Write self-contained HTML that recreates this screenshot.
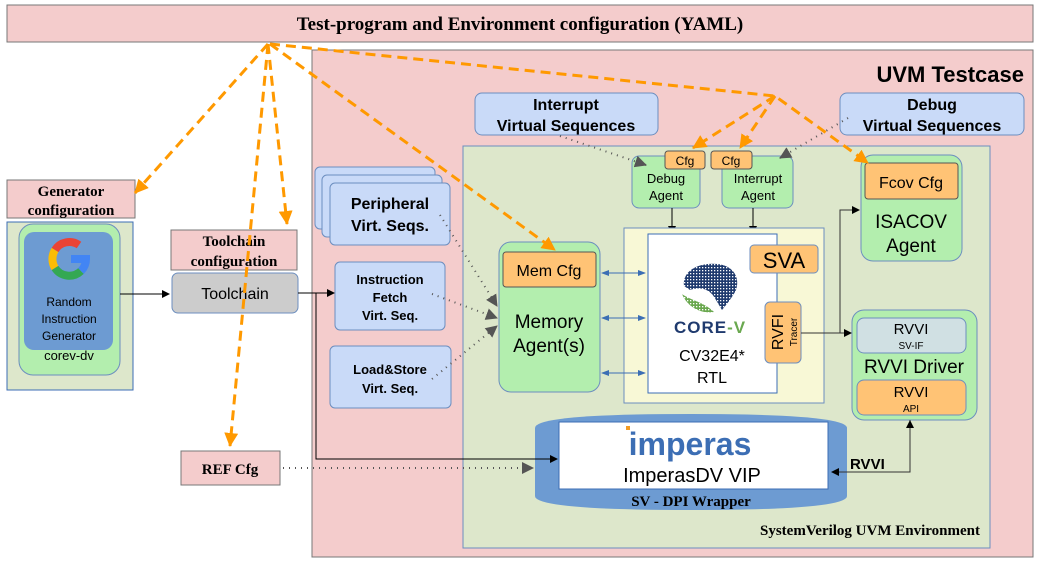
<!DOCTYPE html>
<html><head><meta charset="utf-8"><style>
html,body{margin:0;padding:0;background:#fff}
svg{display:block}
.s{font-family:"Liberation Sans",sans-serif}
.r{font-family:"Liberation Serif",serif;font-weight:bold}
</style></head><body>
<svg width="1040" height="565" viewBox="0 0 1040 565" xmlns="http://www.w3.org/2000/svg">
<defs>
<marker id="ao" markerWidth="14" markerHeight="14" refX="13" refY="7" orient="auto" markerUnits="userSpaceOnUse"><path d="M0,0 L14,7 L0,14 Z" fill="#ff9900"/></marker>
<marker id="ak" markerWidth="8" markerHeight="8" refX="7" refY="4" orient="auto" markerUnits="userSpaceOnUse"><path d="M0,0 L8,4 L0,8 Z" fill="#000"/></marker>
<marker id="ag" markerWidth="12" markerHeight="12" refX="11" refY="6" orient="auto" markerUnits="userSpaceOnUse"><path d="M0,0 L12,6 L0,12 Z" fill="#555"/></marker>
<marker id="ab" markerWidth="8" markerHeight="8" refX="7" refY="4" orient="auto-start-reverse" markerUnits="userSpaceOnUse"><path d="M0,1 L8,4 L0,7 Z" fill="#3c6eb4"/></marker>
<pattern id="grid" width="3" height="3" patternUnits="userSpaceOnUse"><rect width="3" height="3" fill="#1f3a6e"/><rect width="1.3" height="1.3" fill="#fff"/></pattern>
<pattern id="gridg" width="3" height="3" patternUnits="userSpaceOnUse"><rect width="3" height="3" fill="#6aa84f"/><rect width="1.3" height="1.3" fill="#fff"/></pattern>
</defs>

<rect x="7" y="5" width="1026" height="37" fill="#f4cccc" stroke="#777"/>
<text x="520" y="30" class="r" font-size="19" text-anchor="middle">Test-program and Environment configuration (YAML)</text>

<rect x="312" y="50" width="721" height="507" fill="#f4cccc" stroke="#777"/>
<text x="1024" y="82" class="s" font-size="22" font-weight="bold" text-anchor="end">UVM Testcase</text>

<rect x="463" y="146" width="527" height="402" fill="#dde7cb" stroke="#6c8ebf"/>
<text x="980" y="535" class="r" font-size="15" text-anchor="end">SystemVerilog UVM Environment</text>

<rect x="475" y="93" width="183" height="42" rx="7" fill="#c9daf8" stroke="#6c8ebf"/>
<text x="566" y="110" class="s" font-size="16" font-weight="bold" text-anchor="middle">Interrupt</text>
<text x="566" y="131" class="s" font-size="16" font-weight="bold" text-anchor="middle">Virtual Sequences</text>
<rect x="840" y="93" width="184" height="42" rx="7" fill="#c9daf8" stroke="#6c8ebf"/>
<text x="932" y="110" class="s" font-size="16" font-weight="bold" text-anchor="middle">Debug</text>
<text x="932" y="131" class="s" font-size="16" font-weight="bold" text-anchor="middle">Virtual Sequences</text>

<rect x="632" y="156" width="68" height="52" rx="7" fill="#b3eeae" stroke="#6c8ebf"/>
<text x="666" y="183" class="s" font-size="13" text-anchor="middle">Debug</text>
<text x="666" y="200" class="s" font-size="13" text-anchor="middle">Agent</text>
<rect x="722" y="156" width="71" height="52" rx="7" fill="#b3eeae" stroke="#6c8ebf"/>
<text x="758" y="183" class="s" font-size="13" text-anchor="middle">Interrupt</text>
<text x="758" y="200" class="s" font-size="13" text-anchor="middle">Agent</text>
<rect x="665" y="151" width="40" height="18" rx="3" fill="#ffc375" stroke="#555"/>
<text x="685" y="165" class="s" font-size="12" text-anchor="middle">Cfg</text>
<rect x="711" y="151" width="41" height="18" rx="3" fill="#ffc375" stroke="#555"/>
<text x="731" y="165" class="s" font-size="12" text-anchor="middle">Cfg</text>
<line x1="672" y1="208" x2="672" y2="233" stroke="#000" marker-end="url(#ak)"/>
<line x1="753" y1="208" x2="753" y2="233" stroke="#000" marker-end="url(#ak)"/>

<rect x="624" y="228" width="200" height="175" fill="#f8f8d6" stroke="#6c8ebf"/>
<rect x="648" y="234" width="129" height="159" fill="#fff" stroke="#3c6eb4"/>
<path d="M684,286 C682,270 700,262 718,264 C734,266 740,278 736,290 C732,298 726,305 722,310 L716,300 C712,292 704,285 690,290 Z" fill="url(#grid)"/>
<path d="M682,294 C690,300 704,302 714,312 C702,314 688,308 682,294 Z" fill="url(#gridg)"/>
<text x="710" y="333" class="s" font-size="17" font-weight="bold" fill="#1f3a6e" text-anchor="middle" letter-spacing="1">CORE<tspan fill="#6aa84f">-V</tspan></text>
<text x="712" y="361" class="s" font-size="16" text-anchor="middle">CV32E4*</text>
<text x="712" y="383" class="s" font-size="16" text-anchor="middle">RTL</text>
<rect x="750" y="245" width="68" height="28" rx="4" fill="#ffc375" stroke="#6c8ebf"/>
<text x="784" y="268" class="s" font-size="22" text-anchor="middle">SVA</text>
<rect x="765" y="302" width="36" height="61" rx="5" fill="#ffc375" stroke="#6c8ebf"/>
<text transform="translate(783,332) rotate(-90)" x="0" y="0" class="s" font-size="16" text-anchor="middle">RVFI</text>
<text transform="translate(797,332) rotate(-90)" x="0" y="0" class="s" font-size="10" text-anchor="middle">Tracer</text>

<rect x="499" y="242" width="101" height="150" rx="12" fill="#b3eeae" stroke="#6c8ebf"/>
<rect x="503" y="252" width="93" height="35" rx="3" fill="#ffc375" stroke="#555"/>
<text x="549" y="276" class="s" font-size="16" text-anchor="middle">Mem Cfg</text>
<text x="549" y="328" class="s" font-size="19" text-anchor="middle">Memory</text>
<text x="549" y="352" class="s" font-size="19" text-anchor="middle">Agent(s)</text>
<line x1="602" y1="273" x2="645" y2="273" stroke="#3c6eb4" marker-start="url(#ab)" marker-end="url(#ab)"/>
<line x1="602" y1="318" x2="645" y2="318" stroke="#3c6eb4" marker-start="url(#ab)" marker-end="url(#ab)"/>
<line x1="602" y1="373" x2="645" y2="373" stroke="#3c6eb4" marker-start="url(#ab)" marker-end="url(#ab)"/>

<rect x="861" y="155" width="101" height="106" rx="12" fill="#b3eeae" stroke="#6c8ebf"/>
<rect x="865" y="163" width="93" height="36" rx="3" fill="#ffc375" stroke="#555"/>
<text x="911" y="188" class="s" font-size="16" text-anchor="middle">Fcov Cfg</text>
<text x="911" y="228" class="s" font-size="19" text-anchor="middle">ISACOV</text>
<text x="911" y="252" class="s" font-size="19" text-anchor="middle">Agent</text>

<rect x="852" y="310" width="125" height="110" rx="12" fill="#b3eeae" stroke="#6c8ebf"/>
<rect x="857" y="318" width="109" height="35" rx="7" fill="#d0e0e3" stroke="#6c8ebf"/>
<text x="911" y="334" class="s" font-size="15" text-anchor="middle">RVVI</text>
<text x="911" y="349" class="s" font-size="10" text-anchor="middle">SV-IF</text>
<text x="914" y="373" class="s" font-size="19" text-anchor="middle">RVVI Driver</text>
<rect x="857" y="380" width="109" height="35" rx="7" fill="#ffc375" stroke="#6c8ebf"/>
<text x="911" y="397" class="s" font-size="15" text-anchor="middle">RVVI</text>
<text x="911" y="412" class="s" font-size="10" text-anchor="middle">API</text>

<polyline points="801,333 840,333 840,210 859,210" fill="none" stroke="#333" marker-end="url(#ak)"/>
<line x1="840" y1="333" x2="851" y2="333" stroke="#333" marker-end="url(#ak)"/>

<path d="M535,428 Q535,414 691,414 Q847,414 847,428 L847,496 Q847,510 691,510 Q535,510 535,496 Z" fill="#6d9bd2"/>
<rect x="559" y="422" width="269" height="67" fill="#fff" stroke="#3c6eb4"/>
<text x="690" y="455" class="s" font-size="32" font-weight="bold" fill="#3c6eb4" text-anchor="middle">imperas</text>
<rect x="626" y="426" width="4" height="4" fill="#f39c24"/>
<text x="692" y="482" class="s" font-size="20" text-anchor="middle">ImperasDV VIP</text>
<text x="691" y="506" class="r" font-size="15" text-anchor="middle">SV - DPI Wrapper</text>
<polyline points="910,420 910,472 832,472" fill="none" stroke="#333" marker-end="url(#ak)"/>
<line x1="910" y1="428" x2="910" y2="421" stroke="#333" marker-end="url(#ak)"/>
<text x="850" y="469" class="s" font-size="15" font-weight="bold">RVVI</text>

<rect x="315" y="167" width="120" height="62" rx="5" fill="#c9daf8" stroke="#6c8ebf"/>
<rect x="322" y="175" width="120" height="62" rx="5" fill="#c9daf8" stroke="#6c8ebf"/>
<rect x="330" y="183" width="120" height="62" rx="5" fill="#c9daf8" stroke="#6c8ebf"/>
<text x="390" y="209" class="s" font-size="16" font-weight="bold" text-anchor="middle">Peripheral</text>
<text x="390" y="231" class="s" font-size="16" font-weight="bold" text-anchor="middle">Virt. Seqs.</text>
<rect x="335" y="262" width="110" height="68" rx="5" fill="#c9daf8" stroke="#6c8ebf"/>
<text x="390" y="284" class="s" font-size="13" font-weight="bold" text-anchor="middle">Instruction</text>
<text x="390" y="302" class="s" font-size="13" font-weight="bold" text-anchor="middle">Fetch</text>
<text x="390" y="320" class="s" font-size="13" font-weight="bold" text-anchor="middle">Virt. Seq.</text>
<rect x="330" y="346" width="121" height="62" rx="5" fill="#c9daf8" stroke="#6c8ebf"/>
<text x="390" y="374" class="s" font-size="13" font-weight="bold" text-anchor="middle">Load&amp;Store</text>
<text x="390" y="393" class="s" font-size="13" font-weight="bold" text-anchor="middle">Virt. Seq.</text>

<g stroke="#555" stroke-width="2" stroke-dasharray="1,5" fill="none">
<line x1="440" y1="215" x2="497" y2="306" marker-end="url(#ag)"/>
<line x1="432" y1="294" x2="497" y2="318" marker-end="url(#ag)"/>
<line x1="432" y1="379" x2="497" y2="326" marker-end="url(#ag)"/>
<line x1="560" y1="136" x2="646" y2="165" marker-end="url(#ag)"/>
<line x1="848" y1="118" x2="780" y2="158" marker-end="url(#ag)"/>
<line x1="283" y1="468" x2="533" y2="468" marker-end="url(#ag)"/>
</g>

<rect x="7" y="180" width="128" height="38" fill="#f4cccc" stroke="#777"/>
<text x="71" y="196" class="r" font-size="15" text-anchor="middle">Generator</text>
<text x="71" y="215" class="r" font-size="15" text-anchor="middle">configuration</text>
<rect x="7" y="222" width="126" height="168" fill="#dde7cb" stroke="#3c6eb4"/>
<rect x="19" y="224" width="101" height="151" rx="14" fill="#b3eeae" stroke="#6c8ebf"/>
<rect x="24" y="232" width="89" height="118" rx="10" fill="#6d9bd2"/>
<g transform="translate(69,259)" fill="none" stroke-width="8">
<path d="M10,-14 A17,17 0 0,0 -14,-9" stroke="#ea4335"/>
<path d="M-14,-9 A17,17 0 0,0 -14,9" stroke="#fbbc05"/>
<path d="M-14,9 A17,17 0 0,0 12,12" stroke="#34a853"/>
<path d="M12,12 A17,17 0 0,0 17,0 L2,0" stroke="#4285f4"/>
</g>
<text x="69" y="306" class="s" font-size="12" text-anchor="middle">Random</text>
<text x="69" y="323" class="s" font-size="12" text-anchor="middle">Instruction</text>
<text x="69" y="340" class="s" font-size="12" text-anchor="middle">Generator</text>
<text x="69" y="360" class="s" font-size="13" text-anchor="middle">corev-dv</text>

<rect x="171" y="230" width="126" height="40" fill="#f4cccc" stroke="#777"/>
<text x="234" y="246" class="r" font-size="15" text-anchor="middle">Toolchain</text>
<text x="234" y="266" class="r" font-size="15" text-anchor="middle">configuration</text>
<rect x="172" y="273" width="126" height="40" rx="6" fill="#cccccc" stroke="#6c8ebf"/>
<text x="235" y="299" class="s" font-size="16" text-anchor="middle">Toolchain</text>
<line x1="120" y1="294" x2="169" y2="294" stroke="#000" marker-end="url(#ak)"/>
<polyline points="298,293 334,293" fill="none" stroke="#000" marker-end="url(#ak)"/>
<polyline points="316,293 316,459 557,459" fill="none" stroke="#000" marker-end="url(#ak)"/>

<rect x="181" y="451" width="99" height="34" fill="#f4cccc" stroke="#777"/>
<text x="230" y="474" class="r" font-size="15" text-anchor="middle">REF Cfg</text>

<g stroke="#ff9900" stroke-width="3" stroke-dasharray="10,6" fill="none" marker-end="url(#ao)">
<line x1="268" y1="44" x2="135" y2="193"/>
<line x1="268" y1="44" x2="287" y2="224"/>
<line x1="268" y1="44" x2="230" y2="446"/>
<line x1="270" y1="44" x2="555" y2="250"/>
<polyline points="270,44 775,96 868,163"/>
<line x1="775" y1="96" x2="693" y2="148"/>
<line x1="775" y1="96" x2="740" y2="148"/>
</g>
</svg>
</body></html>
